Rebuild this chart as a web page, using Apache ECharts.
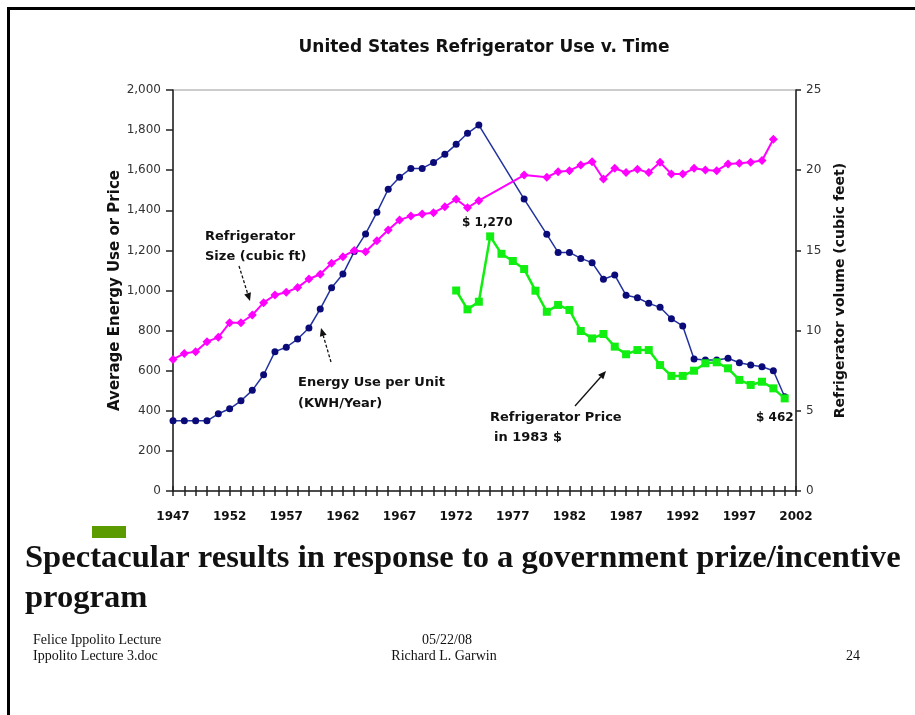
<!DOCTYPE html>
<html>
<head>
<meta charset="utf-8">
<title>United States Refrigerator Use v. Time</title>
<script src="https://cdn.jsdelivr.net/npm/echarts@6/dist/echarts.min.js"></script>
<style>
    html, body { margin: 0; padding: 0; background: #fff; }
    #chart { width: 915px; height: 715px; }
</style>
</head>
<body>
<div id="chart"></div>
<script>
    // categories: one per year
    var years = ['1947','1948','1949','1950','1951','1952','1953','1954','1955','1956',
                 '1957','1958','1959','1960','1961','1962','1963','1964','1965','1966',
                 '1967','1968','1969','1970','1971','1972','1973','1974','1975','1976',
                 '1977','1978','1979','1980','1981','1982','1983','1984','1985','1986',
                 '1987','1988','1989','1990','1991','1992','1993','1994','1995','1996',
                 '1997','1998','1999','2000','2001','2002'];

    // energy use per unit, kWh/year (left axis)
    var energyUse = [350,350,350,350,385,410,450,502,580,695,
                     717,758,813,908,1014,1082,1194,1282,1390,1505,
                     1565,1609,1609,1639,1679,1729,1784,1825,null,null,
                     null,1456,null,1280,1190,1190,1160,1139,1056,1077,
                     976,964,936,916,859,823,658,653,653,662,
                     640,628,620,600,470,null];

    // refrigerator price in 1983 $ (left axis)
    var price = [null,null,null,null,null,null,null,null,null,null,
                 null,null,null,null,null,null,null,null,null,null,
                 null,null,null,null,null,1000,906,944,1270,1183,
                 1147,1107,999,894,928,903,798,761,783,720,
                 682,703,703,628,574,574,600,637,642,612,
                 554,529,545,512,462,null];

    // refrigerator size, cubic feet (right axis)
    var size = [8.2,8.58,8.68,9.31,9.58,10.49,10.49,10.97,11.74,12.22,
                12.39,12.68,13.22,13.51,14.2,14.61,15.0,14.92,15.6,16.27,
                16.9,17.14,17.27,17.35,17.72,18.19,17.66,18.1,null,null,
                null,19.7,null,19.56,19.91,19.97,20.32,20.53,19.45,20.12,
                19.85,20.06,19.85,20.49,19.76,19.76,20.12,20.01,19.97,20.39,
                20.43,20.5,20.6,21.93,null,null];

    var leftTicks = [0,200,400,600,800,1000,1200,1400,1600,1800,2000];
    var rightTicks = [0,5,10,15,20,25];

    var sans = 'DejaVu Sans, Verdana, sans-serif';
    var serif = 'Liberation Serif, Times New Roman, serif';

    // little arrow for the callouts, pixel coords
    function arrow(x1, y1, x2, y2, dashed){
        var a = Math.atan2(y2 - y1, x2 - x1);
        var L = 8, W = 3.5;
        var bx = x2 - L * Math.cos(a), by = y2 - L * Math.sin(a);
        return {
            type: 'group',
            children: [
                {
                    type: 'line',
                    shape: { x1: x1, y1: y1, x2: bx, y2: by },
                    style: { stroke: '#111', lineWidth: 1.3, lineDash: dashed ? [3, 2] : null }
                },
                {
                    type: 'polygon',
                    shape: { points: [[x2, y2],
                        [bx + W * Math.sin(a), by - W * Math.cos(a)],
                        [bx - W * Math.sin(a), by + W * Math.cos(a)]] },
                    style: { fill: '#111' }
                }
            ]
        };
    }

    // text anchored at x, vertically centred on y
    function txt(x, y, s, font, align){
        return {
            type: 'text', x: x, y: y,
            style: { text: s, font: font, fill: '#111', align: align || 'left', verticalAlign: 'middle' }
        };
    }

    var myChart = echarts.init(document.getElementById('chart'));

    var option = {
        backgroundColor: '#fff',
        animation: false,
        title: {
            text: 'United States Refrigerator Use v. Time',
            left: 479,
            top: 34,
            textAlign: 'center',
            textStyle: { fontFamily: sans, fontSize: 17, fontWeight: 'bold', color: '#111' }
        },
        grid: {
            left: 173, right: 119, top: 90, bottom: 224,
            show: true, borderColor: '#999', borderWidth: 1
        },
        xAxis: [
            {
                type: 'category',
                data: years,
                boundaryGap: false,
                axisLine: { lineStyle: { color: '#222', width: 1.5 } },
                axisTick: { interval: 0, length: 5, lineStyle: { color: '#222', width: 1.5 } },
                axisLabel: {
                    interval: 4, margin: 20,
                    fontFamily: sans, fontSize: 12, fontWeight: 'bold', color: '#111'
                },
                splitLine: { show: false }
            },
            {
                // second copy only to get the ticks crossing the axis line
                type: 'category',
                data: years,
                position: 'bottom',
                boundaryGap: false,
                axisLine: { show: false },
                axisTick: { interval: 0, inside: true, length: 5, lineStyle: { color: '#222', width: 1.5 } },
                axisLabel: { show: false },
                splitLine: { show: false }
            }
        ],
        yAxis: [
            {
                type: 'value',
                min: 0, max: 2000, interval: 200,
                name: 'Average Energy Use or Price',
                nameLocation: 'middle',
                nameGap: 50,
                nameMoveOverlap: false,
                nameTextStyle: { fontFamily: sans, fontSize: 15, fontWeight: 'bold', color: '#111' },
                axisLine: { show: true, lineStyle: { color: '#222', width: 1.5 } },
                axisTick: { show: true, length: 7, lineStyle: { color: '#222', width: 1.5 } },
                axisLabel: {
                    margin: 12, fontFamily: sans, fontSize: 12, color: '#333',
                    formatter: function(v){
                        if (leftTicks.indexOf(v) < 0) return '';
                        return v.toLocaleString('en-US');
                    }
                },
                splitLine: { show: false }
            },
            {
                type: 'value',
                min: 0, max: 25, interval: 5,
                position: 'right',
                name: 'Refrigerator volume (cubic feet)',
                nameLocation: 'middle',
                nameGap: 37,
                nameRotate: 90,
                nameMoveOverlap: false,
                nameTextStyle: { fontFamily: sans, fontSize: 14, fontWeight: 'bold', color: '#111' },
                axisLine: { show: true, lineStyle: { color: '#222', width: 1.5 } },
                axisTick: { show: true, length: 5, lineStyle: { color: '#222', width: 1.5 } },
                axisLabel: {
                    margin: 10, fontFamily: sans, fontSize: 12, color: '#333',
                    formatter: function(v){
                        return rightTicks.indexOf(v) < 0 ? '' : String(v);
                    }
                },
                splitLine: { show: false }
            }
        ],
        series: [
            {
                name: 'Energy Use per Unit',
                type: 'line',
                data: energyUse,
                yAxisIndex: 0,
                connectNulls: true,
                showAllSymbol: true,
                symbol: 'circle',
                symbolSize: 7,
                itemStyle: { color: '#0a0a78' },
                lineStyle: { color: '#2233a0', width: 1.5 },
                z: 3
            },
            {
                name: 'Refrigerator Size',
                type: 'line',
                data: size,
                yAxisIndex: 1,
                connectNulls: true,
                showAllSymbol: true,
                symbol: 'diamond',
                symbolSize: 9,
                itemStyle: { color: '#ff00ff' },
                lineStyle: { color: '#ff00ff', width: 2 },
                z: 4
            },
            {
                name: 'Refrigerator Price',
                type: 'line',
                data: price,
                yAxisIndex: 0,
                connectNulls: true,
                showAllSymbol: true,
                symbol: 'rect',
                symbolSize: 8,
                itemStyle: { color: '#11ee11' },
                lineStyle: { color: '#11ee11', width: 2.5 },
                z: 5
            }
        ],
        graphic: [
            // slide frame
            { type: 'rect', shape: { x: 7, y: 7, width: 908, height: 3 }, style: { fill: '#000' } },
            { type: 'rect', shape: { x: 7, y: 7, width: 3, height: 708 }, style: { fill: '#000' } },

            // callouts
            txt(205, 237, 'Refrigerator', 'bold 13px ' + sans),
            txt(205, 257, 'Size (cubic ft)', 'bold 13px ' + sans),
            arrow(239, 266, 250, 301, true),

            txt(298, 383, 'Energy Use per Unit', 'bold 13px ' + sans),
            txt(298, 404, '(KWH/Year)', 'bold 13px ' + sans),
            arrow(331, 362, 321, 328, true),

            txt(490, 418, 'Refrigerator Price', 'bold 13px ' + sans),
            txt(494, 438, 'in 1983 $', 'bold 13px ' + sans),
            arrow(575, 406, 606, 371, false),

            txt(462, 223, '$ 1,270', 'bold 12px ' + sans),
            txt(756, 418, '$ 462', 'bold 12px ' + sans),

            // slide text
            { type: 'rect', shape: { x: 92, y: 526, width: 34, height: 12 }, style: { fill: '#5b9b00' } },
            txt(25, 559, 'Spectacular results in response to a government prize/incentive', 'bold 32.6px ' + serif),
            txt(25, 599, 'program', 'bold 32.6px ' + serif),

            txt(33, 640, 'Felice Ippolito Lecture', '14px ' + serif),
            txt(33, 656, 'Ippolito Lecture 3.doc', '14px ' + serif),
            txt(447, 640, '05/22/08', '14px ' + serif, 'center'),
            txt(444, 656, 'Richard L. Garwin', '14px ' + serif, 'center'),
            txt(846, 656, '24', '14px ' + serif)
        ]
    };

    myChart.setOption(option);
</script>
</body>
</html>
